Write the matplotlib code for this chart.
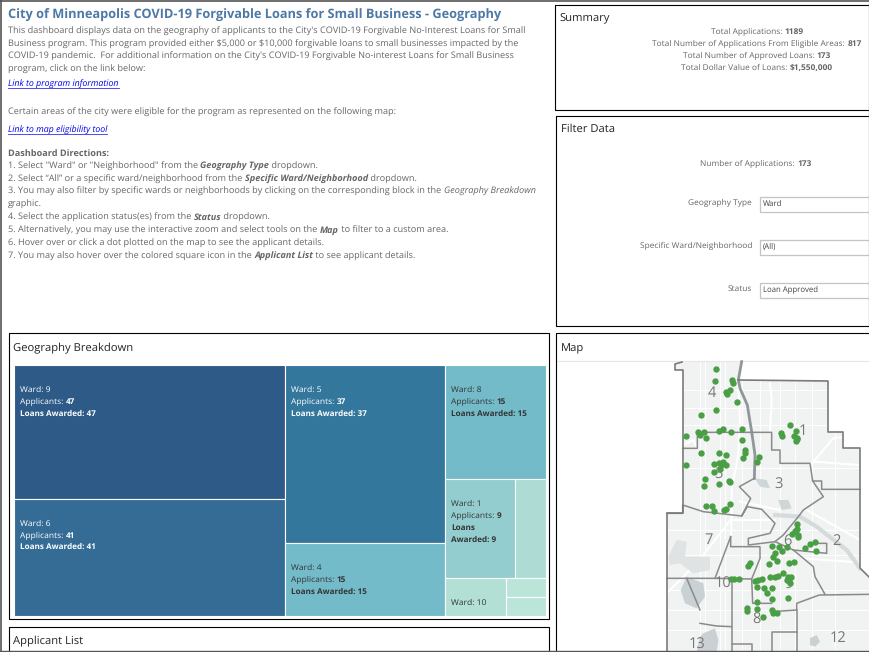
import matplotlib
matplotlib.use('Agg')
import matplotlib.pyplot as plt
from matplotlib.patches import Rectangle, Polygon

# treemap values, one inner list per column, stacked groups inside it
ward_labels = ['9', '6', '5', '4', '8', '1', '7', '10', '11', '12']
ward_applicants = [47, 41, 37, 15, 15, 9, 4, 3, 1, 1]
ward_colors = ['#2d5a87', '#356c95', '#34779d', '#74bbc9', '#74bbc9',
               '#94cdcf', '#aedcd5', '#b2e0d5', '#bce5da', '#bce5da']

title = 'City of Minneapolis COVID-19 Forgivable Loans for Small Business - Geography'
intro_lines = [
    (31, "This dashboard displays data on the geography of applicants to the City's COVID-19 Forgivable No-Interest Loans for Small"),
    (44, "Business program. This program provided either $5,000 or $10,000 forgivable loans to small businesses impacted by the"),
    (56, "COVID-19 pandemic.  For additional information on the City's COVID-19 Forgivable No-interest Loans for Small Business"),
    (69, "program, click on the link below:"),
    (112, "Certain areas of the city were eligible for the program as represented on the following map:"),
]
direction_lines = [
    (153, [('Dashboard Directions:', 'b')]),
    (166, [('1. Select "Ward" or "Neighborhood" from the ', 'n'), ('Geography Type', 'bi'), (' dropdown.', 'n')]),
    (179, [('2. Select \u201cAll\u201d or a specific ward/neighborhood from the ', 'n'), ('Specific Ward/Neighborhood', 'bi'), (' dropdown.', 'n')]),
    (191, [('3. You may also filter by specific wards or neighborhoods by clicking on the corresponding block in the ', 'n'), ('Geography Breakdown', 'i')]),
    (204, [('graphic.', 'n')]),
    (217, [('4. Select the application status(es) from the ', 'n'), ('Status', 'bi'), (' dropdown.', 'n')]),
    (230, [('5. Alternatively, you may use the interactive zoom and select tools on the ', 'n'), ('Map', 'bi'), (' to filter to a custom area.', 'n')]),
    (243, [('6. Hover over or click a dot plotted on the map to see the applicant details.', 'n')]),
    (256, [('7. You may also hover over the colored square icon in the ', 'n'), ('Applicant List', 'bi'), (' to see applicant details.', 'n')]),
]
summary_lines = [
    (31, 'Total Applications: ', '1189'),
    (43, 'Total Number of Applications From Eligible Areas: ', '817'),
    (55, 'Total Number of Approved Loans: ', '173'),
    (67, 'Total Dollar Value of Loans: ', '$1,550,000'),
]
filter_labels = ['Geography Type', 'Specific Ward/Neighborhood', 'Status']
filter_values = ['Ward', '(All)', 'Loan Approved']
filter_ys = [203, 246, 289]

# map dots, in two crops (north and south half)
north_x = [168, 164, 217, 220, 209, 197, 201, 232, 168, 122, 391, 408, 362, 366, 402, 412, 407, 410,
           79, 115, 120, 132, 139, 176, 188, 212, 245, 246, 122, 176, 197, 255, 255, 250, 298, 292,
           79, 161, 176, 190, 183, 199, 180, 161, 135, 131, 176, 206, 210]
north_y = [41, 77, 74, 85, 104, 110, 117, 140, 164, 181, 210, 227, 234, 242, 243, 250, 258, 252,
           244, 232, 240, 232, 248, 228, 222, 230, 222, 254, 295, 293, 299, 284, 293, 310, 307, 322,
           329, 327, 324, 322, 331, 331, 343, 351, 373, 392, 387, 377, 380]
south_x = [137, 155, 163, 193, 210, 198, 412, 412, 405, 396, 415, 415, 335, 382, 358, 365, 345, 340, 350,
           465, 450, 435, 468, 388, 402, 270, 264, 328, 330, 345, 355, 370, 385, 392, 380, 390,
           222, 213, 238, 285, 295, 305, 290, 313, 320, 335, 385, 292, 335, 262, 292, 335, 338, 350, 310, 260]
south_y = [17, 17, 33, 30, 13, 28, 72, 88, 92, 102, 105, 112, 137, 140, 142, 152, 160, 170, 183,
           125, 133, 145, 153, 190, 187, 188, 198, 192, 232, 232, 228, 220, 232, 230, 240, 248,
           238, 238, 238, 243, 240, 238, 260, 265, 278, 263, 295, 307, 298, 325, 328, 330, 338, 338, 352, 332]


def north(pts):
    return [(660 + x / 3, 355 + y / 3) for x, y in pts]


def south(pts):
    return [(660 + x / 3, 500 + y / 3) for x, y in pts]


city_outline = [(675, 364), (682, 362), (742, 361), (738, 380), (828, 381), (828, 432), (843, 432), (843, 448),
                (860, 448), (860, 568), (870, 578), (870, 653), (667, 653), (667, 513), (683, 513), (683, 370), (675, 370)]

ward_borders = [
    north([(68, 280), (112, 280), (112, 232), (335, 232), (335, 285), (360, 285), (360, 325), (450, 325),
           (458, 378), (485, 378), (485, 403), (600, 403)]),
    north([(283, 370), (238, 395), (272, 430)]) + south([(245, 48), (262, 20), (305, 28), (345, 70), (330, 100), (265, 115),
                                                         (265, 135), (345, 125), (370, 105), (415, 50), (430, 30), (490, -10)])
    + north([(458, 378)]),
    south([(20, 40), (68, 40), (68, 15), (130, 35), (245, 48)]),
    south([(212, 110), (165, 235), (20, 235)]),
    south([(212, 110), (212, 140), (300, 140), (300, 175), (275, 237), (165, 235)]),
    south([(215, 237), (215, 456)]),
    south([(275, 237), (278, 310), (335, 310)]),
    south([(345, 125), (400, 150), (500, 160), (500, 130), (470, 130)]),
    south([(400, 150), (430, 175), (460, 200), (465, 230), (495, 283)]),
    south([(335, 335), (410, 330), (410, 310), (478, 285), (630, 283)]),
    south([(80, 235), (120, 330)]),
    south([(120, 370), (170, 378), (215, 380)]),
    south([(335, 456), (335, 395), (410, 395), (410, 456)]),
    south([(410, 330), (410, 395)]),
    south([(215, 432), (275, 432), (275, 456)]),
]
river_border = north([(245, 20), (235, 75), (240, 100), (262, 150), (270, 200), (275, 230), (285, 300), (283, 370)])

lakes = [
    (south([(25, 170), (50, 120), (80, 125), (75, 170), (100, 170), (150, 170), (150, 210), (100, 220), (60, 190), (30, 195)]), '#dfe3e3'),
    (south([(62, 270), (80, 230), (130, 250), (135, 290), (110, 325), (75, 310)]), '#c9d1d4'),
    (south([(130, 400), (165, 385), (175, 420), (170, 456), (110, 456), (120, 410)]), '#c9d1d4'),
    (south([(450, 415), (470, 405), (480, 425), (465, 440), (450, 435)]), '#c9d1d4'),
    (north([(285, 370), (320, 375), (330, 400), (300, 395)]), '#cfd6d8'),
    (south([(355, 0), (385, 0), (395, 25), (365, 30)]), '#cfd6d8'),
]
river_course = south([(345, 45), (420, 50), (470, 80), (560, 150), (600, 205)])
roads = [
    north([(235, 80), (240, 200), (235, 300), (215, 400)]) + south([(215, 40), (213, 110)]),
    north([(68, 270), (100, 255), (112, 280)]),
    north([(330, 85), (335, 130), (330, 232)]),
    north([(600, 240), (520, 250), (460, 320), (450, 330)]),
    north([(460, 320), (600, 330)]),
    south([(20, 280), (110, 190), (212, 60)]),
    south([(215, 60), (345, 60)]),
    south([(440, 30), (600, 120)]),
    south([(360, 30), (240, 5)]),
    south([(430, 175), (630, 190)]),
]
grid_xs = [700, 720, 760, 780, 795, 812, 835, 742, 725, 705]
grid_ys = [390, 408, 425, 468, 530, 555, 590, 610, 630]
ward_numbers = [
    (north([(157, 113)]), '4'), (north([(428, 227)]), '1'), (north([(355, 390)]), '3'), (north([(175, 358)]), '5'),
    (south([(145, 120)]), '7'), (south([(528, 122)]), '2'), (south([(382, 125)]), '6'), (south([(190, 253)]), '10'),
    (south([(288, 360)]), '8'), (south([(535, 415)]), '12'), (south([(110, 435)]), '13'), (south([(385, 255)]), '9'),
]

TEXT = '#666666'
FONT = 'Open Sans'
plt.rcParams['font.family'] = [FONT, 'DejaVu Sans']
plt.rcParams['text.hinting'] = 'no_hinting'

fig = plt.figure(figsize=(8.7, 6.52), dpi=100)
ax = fig.add_axes([0, 0, 1, 1])
ax.set_xlim(0, 870)
ax.set_ylim(652, 0)
ax.axis('off')


def runs(x, y, parts, size=6.62, bold_size=None, color=TEXT, zorder=5):
    # bold and italic pieces on one line, each placed after the last one, on one baseline
    renderer = fig.canvas.get_renderer()
    for s, style in parts:
        fs = bold_size if bold_size and 'b' in style else size
        t = ax.text(x, y + 3, s, fontsize=fs, color=color, va='baseline', ha='left', zorder=zorder, parse_math=False,
                    fontweight='bold' if 'b' in style else 'normal',
                    fontstyle='italic' if 'i' in style else 'normal')
        x += t.get_window_extent(renderer).width
    return x


def runs_width(parts, size):
    renderer = fig.canvas.get_renderer()
    w = 0
    for s, style in parts:
        t = ax.text(0, 0, s, fontsize=size, parse_math=False, fontweight='bold' if 'b' in style else 'normal')
        w += t.get_window_extent(renderer).width
        t.remove()
    return w


def box(x0, y0, x1, y1):
    ax.add_patch(Rectangle((x0, y0), x1 - x0, y1 - y0, fill=False, edgecolor='black', lw=0.8, zorder=6))


# outer frame
ax.plot([0.5, 0.5], [0, 652], color='#555555', lw=1.2)
ax.plot([0, 870], [0.5, 0.5], color='#555555', lw=1.2)
ax.plot([0, 870], [651.3, 651.3], color='#555555', lw=1.0, zorder=7)

# left text block
ax.text(8, 15, title, fontsize=9.2, fontweight='bold', color='#4e79a7', va='center')
for y, line in intro_lines:
    runs(8, y, [(line, 'n')])
for y, parts in direction_lines:
    runs(8, y, parts)
for y, s, x1 in [(84, 'Link to program information', 119), (130, 'Link to map eligibility tool', 107)]:
    ax.text(8, y, s, fontsize=6.3, color='#0000ee', style='italic', va='center')
    ax.plot([8, x1], [y + 3.5, y + 3.5], color='#3030ee', lw=0.6)

# summary
box(555.5, 4.5, 872, 109.5)
ax.text(559, 18.5, 'Summary', fontsize=8.1, color='#222222', va='center')
for y, s, v in summary_lines:
    parts = [(s, 'n'), (v, 'b')]
    runs(757 - runs_width(parts, 6.05) / 2, y, parts, size=6.05)

# filters
box(556.5, 115.5, 872, 325.5)
ax.text(561, 129.5, 'Filter Data', fontsize=8.1, color='#222222', va='center')
parts = [('Number of Applications: ', 'n'), ('173', 'b')]
runs(756 - runs_width(parts, 6.05) / 2, 163, parts, size=6.05)
for lab, val, y in zip(filter_labels, filter_values, filter_ys):
    runs(752 - runs_width([(lab, 'n')], 6.05), y - 1, [(lab, 'n')], size=6.05)
    ax.add_patch(Rectangle((760, y - 6.5), 112, 15.5, facecolor='white', edgecolor='#c4c4c4', lw=0.9))
    ax.text(763, y + 1, val, fontsize=5.6, color='#444444', va='center')
ax.plot([869.5, 869.5], [4, 325], color='#777777', lw=0.9, zorder=7)

# treemap, columns split by share, groups inside stacked the same way
box(9.5, 332.5, 549, 618.5)
ax.text(13, 348.5, 'Geography Breakdown', fontsize=8.1, color='#222222', va='center')
tm_x0, tm_x1, tm_y0, tm_y1 = 14, 546.5, 365, 615.5
total = sum(ward_applicants)
columns = [[[0], [1]], [[2], [3]], [[4], [5, 6], [7, [8, 9]]]]
rects = {}
cx = tm_x0
for col in columns:
    flat = []
    for row in col:
        for item in row:
            flat += item if isinstance(item, list) else [item]
    col_sum = sum(ward_applicants[i] for i in flat)
    col_w = (tm_x1 - tm_x0) * col_sum / total
    cy = tm_y0
    for row in col:
        row_idx = []
        for item in row:
            row_idx += item if isinstance(item, list) else [item]
        row_sum = sum(ward_applicants[i] for i in row_idx)
        row_h = (tm_y1 - tm_y0) * row_sum / col_sum
        rx = cx
        for item in row:
            group = item if isinstance(item, list) else [item]
            g_sum = sum(ward_applicants[i] for i in group)
            g_w = col_w * g_sum / row_sum
            gy = cy
            for i in group:
                h = row_h * ward_applicants[i] / g_sum
                rects[i] = (rx, gy, g_w, h)
                ax.add_patch(Rectangle((rx, gy), g_w, h, facecolor=ward_colors[i], edgecolor='white', lw=0.8, zorder=2))
                gy += h
            rx += g_w
        cy += row_h
    cx += col_w

for i in [0, 1, 2, 3, 4, 5, 7]:
    rx, ry, rw, rh = rects[i]
    col = 'white' if i < 3 else '#333333'
    tx = rx + 6
    ty = ry + 24
    runs(tx, ty, [('Ward: ' + ward_labels[i], 'n')], size=6.1, color=col)
    if i == 7:
        continue
    v = str(ward_applicants[i])
    runs(tx, ty + 12, [('Applicants: ', 'n'), (v, 'b')], size=6.1, bold_size=5.9, color=col)
    if i == 5:
        runs(tx, ty + 24, [('Loans', 'b')], size=5.9, color=col)
        runs(tx, ty + 36, [('Awarded: ' + v, 'b')], size=5.9, color=col)
    else:
        runs(tx, ty + 23.5, [('Loans Awarded: ' + v, 'b')], size=5.9, color=col)

# applicant list
box(9.5, 626.5, 549, 660)
ax.text(13, 641, 'Applicant List', fontsize=8.1, color='#222222', va='center')

# map
box(556.5, 332.5, 872, 660)
ax.text(561, 348.5, 'Map', fontsize=8.1, color='#222222', va='center')
ax.plot([557, 870], [361, 361], color='#e6e6e6', lw=0.8)
land = Polygon(city_outline, closed=True, facecolor='#f1f2f2', edgecolor='none', zorder=1)
ax.add_patch(land)
clipped = []
for gx in grid_xs:
    clipped += ax.plot([gx, gx], [360, 652], color='white', lw=0.7, zorder=1.1)
for gy in grid_ys:
    clipped += ax.plot([660, 870], [gy, gy], color='white', lw=0.7, zorder=1.1)
for road in roads:
    clipped += ax.plot(*zip(*road), color='white', lw=1.5, zorder=1.2)
clipped += ax.plot(*zip(*river_course), color='#d5dbdc', lw=3, zorder=1.3)
for pts, c in lakes:
    ax.add_patch(Polygon(pts, closed=True, facecolor=c, edgecolor='none', zorder=1.4))
for line in clipped:
    line.set_clip_path(land)
ax.plot(*zip(*river_border), color='#8f979a', lw=2, zorder=2)
for line in ward_borders:
    ax.plot(*zip(*line), color='#8a8a8a', lw=1.1, zorder=2.1)
# no line along the top of the map, it is cut there
open_outline = city_outline[3:] + city_outline[:2]
ax.plot(*zip(*open_outline), color='#7a7a7a', lw=1.2, zorder=2.2)
for pos, num in ward_numbers:
    ax.text(pos[0][0], pos[0][1], num, fontsize=10.5, color='#777777', ha='center', va='center', zorder=2.5)

dots = north(list(zip(north_x, north_y))) + south(list(zip(south_x, south_y)))
ax.scatter(*zip(*dots), s=21, color='#4a9e45', linewidths=0, zorder=4)

fig.savefig('out.png', dpi=100)
